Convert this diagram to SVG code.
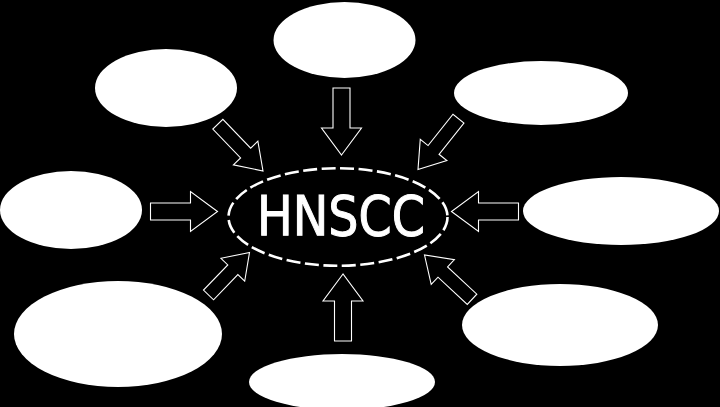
<svg xmlns="http://www.w3.org/2000/svg" xmlns:xlink="http://www.w3.org/1999/xlink" width="720" height="407" viewBox="0 0 720 407">
<style>
.node{fill:#fff;stroke:none}
.arrow{fill:#000;stroke:#fff;stroke-width:1.1;stroke-linejoin:miter}
.center{fill:none;stroke:#fff;stroke-width:2.6;stroke-dasharray:14 4.5}
.label{fill:#fff;stroke:#fff;stroke-width:1;font-family:"DejaVu Sans Condensed","DejaVu Sans",sans-serif;font-stretch:condensed;font-size:55px;text-anchor:middle}
</style>
<defs>
<path id="ar" d="M0,0 L-27,-20 L-27,-8.5 L-67,-8.5 L-67,8.5 L-27,8.5 L-27,20 Z"/>
<path id="ard" d="M0,0 L-25,-17 L-25,-7 L-65,-7 L-65,7 L-25,7 L-25,17 Z"/>
<path id="ardl" d="M0,0 L-24,-16.5 L-24,-7 L-59,-7 L-59,7 L-24,7 L-24,16.5 Z"/>
</defs>
<rect width="720" height="407" fill="#000"/>
<g id="n-top"><ellipse class="node" cx="344.5" cy="40" rx="71" ry="38"/></g>
<g id="n-ul"><ellipse class="node" cx="166" cy="88" rx="71" ry="39"/></g>
<g id="n-ur"><ellipse class="node" cx="541" cy="93" rx="87" ry="32"/></g>
<g id="n-left"><ellipse class="node" cx="71" cy="210" rx="71" ry="39"/></g>
<g id="n-right"><ellipse class="node" cx="621" cy="211" rx="98" ry="34"/></g>
<g id="n-ll"><ellipse class="node" cx="118" cy="334" rx="104" ry="53"/></g>
<g id="n-lr"><ellipse class="node" cx="560" cy="325" rx="98" ry="41"/></g>
<g id="n-bottom"><ellipse class="node" cx="342" cy="382" rx="93" ry="28"/></g>
<g id="n-center">
<ellipse class="center" cx="338" cy="217" rx="109.5" ry="48.8"/>
<text class="label" x="341" y="235" textLength="168" lengthAdjust="spacingAndGlyphs">HNSCC</text>
</g>
<g id="connectors">
<use xlink:href="#ar" class="arrow" transform="translate(341.5,155) rotate(90)"/>
<use xlink:href="#ar" class="arrow" transform="translate(343,274) rotate(-90)"/>
<use xlink:href="#ar" class="arrow" transform="translate(217.5,211.5)"/>
<use xlink:href="#ar" class="arrow" transform="translate(451.5,211.5) rotate(180)"/>
<use xlink:href="#ard" class="arrow" transform="translate(263,171) rotate(46)"/>
<use xlink:href="#ard" class="arrow" transform="translate(418,169.5) rotate(128.5)"/>
<use xlink:href="#ardl" class="arrow" transform="translate(249.5,252.5) rotate(-46)"/>
<use xlink:href="#ard" class="arrow" transform="translate(424.5,255) rotate(-137)"/>
</g>
</svg>
